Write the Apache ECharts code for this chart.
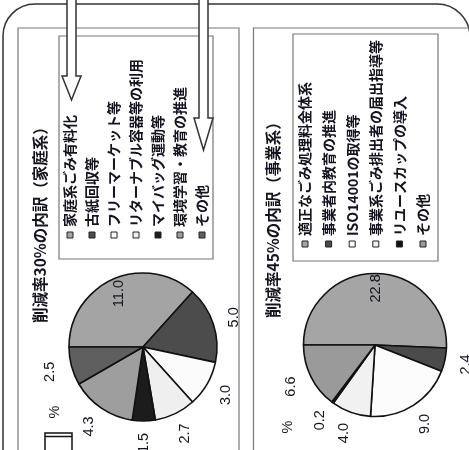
<!DOCTYPE html>
<html><head><meta charset="utf-8">
<script src="https://cdn.jsdelivr.net/npm/echarts@6/dist/echarts.min.js"></script>
<style>html,body{margin:0;padding:0;background:#fff}#c{width:469px;height:450px}</style>
</head><body><div id="c"></div>
<script>
// ---- data ----
const homeTitle = '削減率30%の内訳（家庭系）';
const homeCategories = ['家庭系ごみ有料化','古紙回収等','フリーマーケット等','リターナブル容器等の利用','マイバッグ運動等','環境学習・教育の推進','その他'];
const homeValues = [11.0, 5.0, 3.0, 2.7, 1.5, 4.3, 2.5];
const homeColors = ['#a4a4a4','#4c4c4c','#fbfbfb','#efefef','#1c1c1c','#9e9e9e','#5f5f5f'];

const bizTitle = '削減率45%の内訳（事業系）';
const bizCategories = ['適正なごみ処理料金体系','事業者内教育の推進','ISO14001の取得等','事業系ごみ排出者の届出指導等','リユースカップの導入','その他'];
const bizValues = [22.8, 2.4, 9.0, 4.0, 0.2, 6.6];
const bizColors = ['#a5a5a5','#4b4b4b','#fcfcfc','#f1f1f1','#111111','#9a9a9a'];

const unitLabel = '%';

// ---- helpers ----
const TXT = '#141420';
const CJK = '"Noto Sans CJK JP", sans-serif';
const NUM = '"Liberation Sans", Arial, sans-serif';

function mkData(vals, cats, cols){
  return vals.map((v,i)=>({name:cats[i], value:v, itemStyle:{color:cols[i]}}));
}
function pieSeries(vals, cats, cols, center, r){
  const big = vals.indexOf(Math.max(...vals));
  const base = {type:'pie', center:center, startAngle:180, clockwise:true, animation:false, silent:true};
  return [
    Object.assign({}, base, {
      radius:[0, r],
      data: mkData(vals,cats,cols),
      itemStyle:{borderColor:'#111', borderWidth:1.6},
      label:{show:false}, labelLine:{show:false}, z:3
    }),
    Object.assign({}, base, {
      radius:[r, r+38],
      data: vals.map((v,i)=>({name:cats[i], value:v, itemStyle:{color:'rgba(0,0,0,0)'},
        label:{show:i!==big}})),
      itemStyle:{borderWidth:0},
      label:{show:true, position:'inside', rotate:90, formatter:p=>p.value.toFixed(1),
        fontFamily:NUM, fontSize:14.5, color:TXT},
      labelLine:{show:false}, z:4
    }),
    Object.assign({}, base, {
      radius:[r*0.5, r],
      data: vals.map((v,i)=>({name:cats[i], value:v, itemStyle:{color:'rgba(0,0,0,0)'},
        label:{show:i===big}})),
      itemStyle:{borderWidth:0},
      label:{show:true, position:'inside', rotate:90, formatter:p=>p.value.toFixed(1),
        fontFamily:NUM, fontSize:14.5, color:TXT},
      labelLine:{show:false}, z:4
    })
  ];
}
function vtext(x, y, text, size, family, weight, align){
  return {type:'text', x:x, y:y, rotation:Math.PI/2, z:5,
    style:{text:text, fontSize:size, fontFamily:family||CJK, fontWeight:weight||'normal', fill:TXT,
      align:align||'left', verticalAlign:'middle'}};
}
function legend(cats, cols, x0, dx, yMarker){
  const els = [];
  cats.forEach((c,i)=>{
    const x = x0 + i*dx;
    els.push({type:'rect', shape:{x:x-3, y:yMarker-3, width:6, height:6}, z:5,
      style:{fill:cols[i], stroke:'#222', lineWidth:1}});
    els.push(vtext(x, yMarker-8, c, 14, CJK, 'bold'));
  });
  return els;
}
function arrow(xl, xr, hl, hr, shaftEnd, tip){
  const xm = (hl+hr)/2;
  return {type:'polygon', z:10,
    shape:{points:[[xl,-2],[xr,-2],[xr,shaftEnd],[hr,shaftEnd],[xm,tip],[hl,shaftEnd],[xl,shaftEnd]]},
    style:{fill:'#fff', stroke:'#333', lineWidth:1.5}};
}

const graphics = [
  // outer rounded frame
  {type:'rect', z:1, shape:{x:3, y:4, width:467, height:480, r:[32,33,0,0]},
    style:{fill:'none', stroke:'#333', lineWidth:1.5}},
  // panels
  {type:'rect', z:1, shape:{x:18, y:28, width:221, height:440}, style:{fill:'none', stroke:'#777', lineWidth:1.2}},
  {type:'rect', z:1, shape:{x:253.5, y:28, width:230, height:440}, style:{fill:'none', stroke:'#777', lineWidth:1.2}},
  // legend boxes
  {type:'rect', z:1, shape:{x:59, y:36, width:154, height:223}, style:{fill:'#fff', stroke:'#777', lineWidth:1.2}},
  {type:'rect', z:1, shape:{x:293, y:34, width:145, height:227}, style:{fill:'#fff', stroke:'#777', lineWidth:1.2}},
  // titles
  vtext(40, 323, homeTitle, 15.5, CJK, 'bold'),
  vtext(273, 318, bizTitle, 15.5, CJK, 'bold'),
  // units
  vtext(55, 412, unitLabel, 14.5, NUM, 'normal', 'center'),
  vtext(288, 427, unitLabel, 14.5, NUM, 'normal', 'center'),
  // arrows
  arrow(67, 76, 62, 81, 76, 100),
  arrow(199, 208, 194, 213, 118, 150),
  // small object bottom-left
  {type:'rect', z:5, shape:{x:45, y:433, width:27, height:30}, style:{fill:'#fff', stroke:'#111', lineWidth:1.5}},
  {type:'line', z:5, shape:{x1:45, y1:436.5, x2:72, y2:436.5}, style:{stroke:'#111', lineWidth:1.5}}
].concat(legend(homeCategories, homeColors, 70, 22, 235))
 .concat(legend(bizCategories, bizColors, 305, 23.6, 244));

const chart = echarts.init(document.getElementById('c'), null, {renderer:'canvas'});
chart.setOption({
  animation:false,
  backgroundColor:'#fff',
  graphic:{elements:graphics},
  series: pieSeries(homeValues, homeCategories, homeColors, [143,347], 74)
    .concat(pieSeries(bizValues, bizCategories, bizColors, [375,345], 71.5))
});
</script></body></html>
